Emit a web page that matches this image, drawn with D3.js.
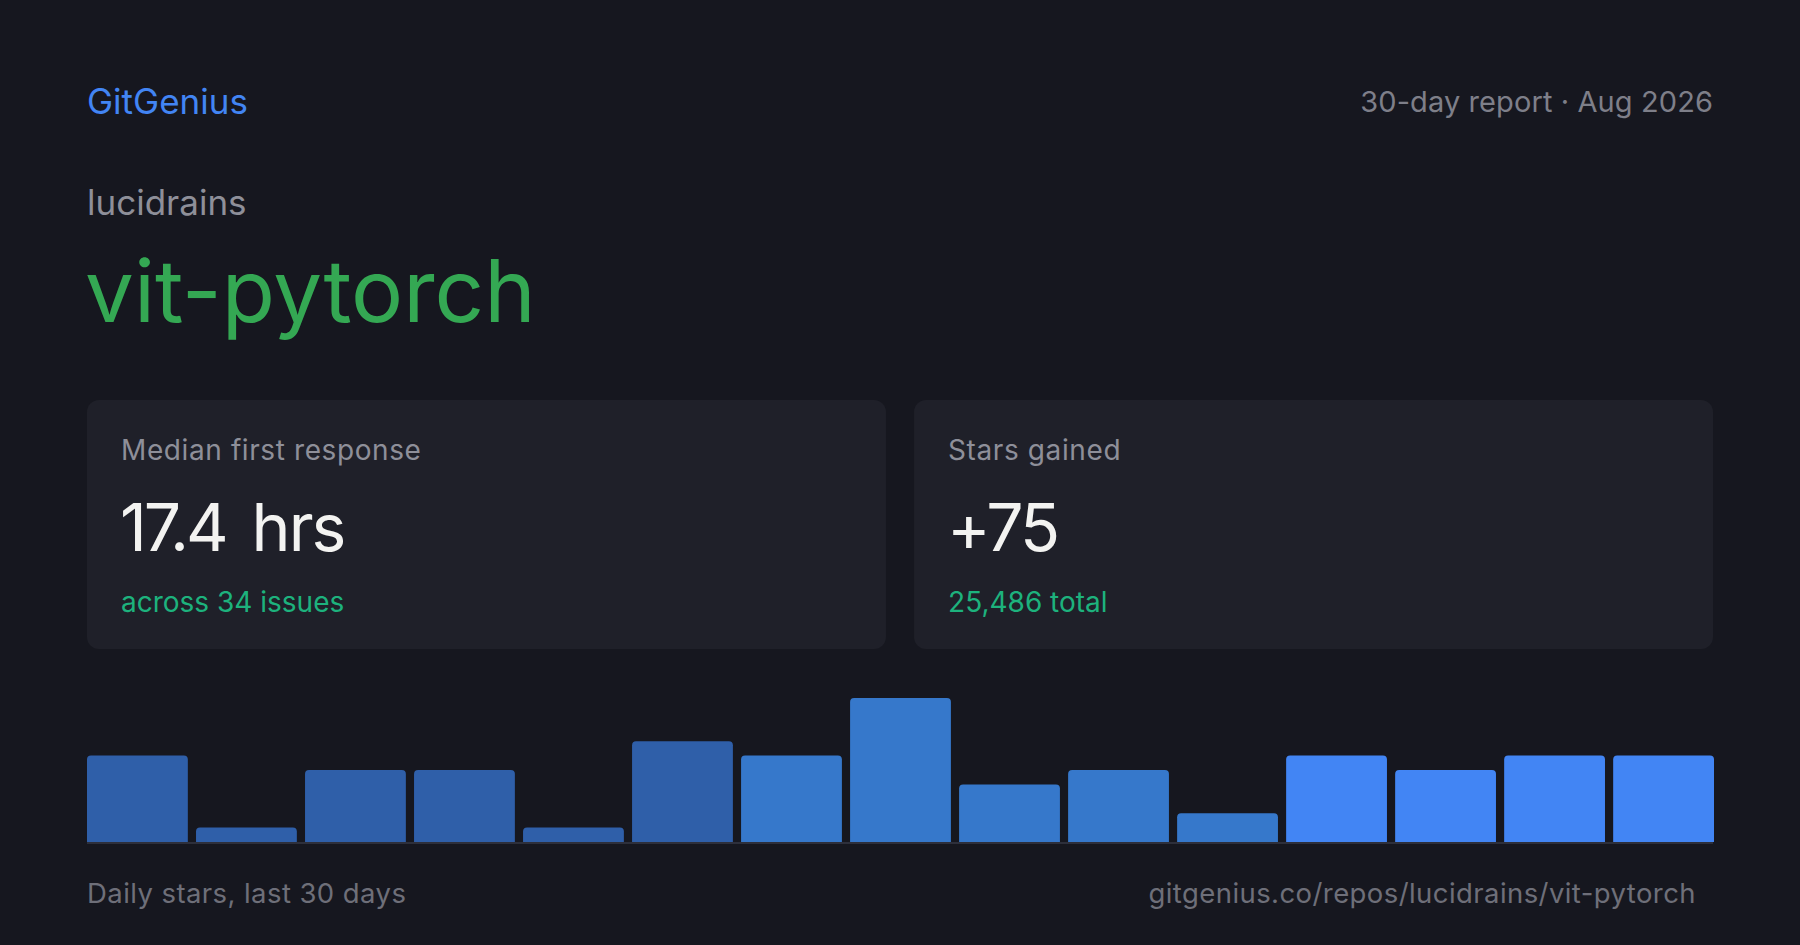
<!DOCTYPE html>
<html>
<head>
<meta charset="utf-8">
<script src="https://cdn.jsdelivr.net/npm/d3@7"></script>
<style>
  html, body { margin: 0; padding: 0; background: #16171f; }
  svg { display: block; font-family: Inter, "Noto Sans", sans-serif; }
</style>
</head>
<body>
<div id="chart"></div>
<script>
// data
const brand = "GitGenius";
const reportLabel = "30-day report · Aug 2026";
const owner = "lucidrains";
const repo = "vit-pytorch";
const cardLabels = ["Median first response", "Stars gained"];
const cardValues = ["17.4", "+75"];
const cardUnits = ["hrs", ""];
const cardNotes = ["across 34 issues", "25,486 total"];
const buckets = d3.range(1, 16);
const dailyStars = [6, 1, 5, 5, 1, 7, 6, 10, 4, 5, 2, 6, 5, 6, 6];
const period = [0, 0, 0, 0, 0, 0, 1, 1, 1, 1, 1, 2, 2, 2, 2];
const footerLeft = "Daily stars, last 30 days";
const footerRight = "gitgenius.co/repos/lucidrains/vit-pytorch";

const W = 1800, H = 945;
const left = 87, right = 1713;

const svg = d3.select("#chart").append("svg")
  .attr("width", W).attr("height", H);

svg.append("rect").attr("width", W).attr("height", H).attr("fill", "#16171f");

// header
svg.append("text").attr("x", left).attr("y", 114)
  .attr("font-size", 35).attr("fill", "#4285f4").text(brand);
svg.append("text").attr("x", right).attr("y", 112)
  .attr("text-anchor", "end").attr("font-size", 29).attr("letter-spacing", 0.1)
  .attr("fill", "#7e7f89").text(reportLabel);
svg.append("text").attr("x", left).attr("y", 215)
  .attr("font-size", 35).attr("fill", "#8e8f99").text(owner);
svg.append("text").attr("x", left - 2).attr("y", 322)
  .attr("font-size", 87).attr("fill", "#34a853").text(repo);

// stat cards
const cardX = d3.scaleBand().domain(cardLabels).range([left, right]).paddingInner(0.034);
const cards = svg.selectAll(".card")
  .data(cardLabels)
  .enter()
  .append("g")
  .attr("class", "card")
  .attr("transform", (d) => `translate(${cardX(d)},400)`);

cards.append("rect")
  .attr("width", cardX.bandwidth())
  .attr("height", 249)
  .attr("rx", 12)
  .attr("fill", "#1f2029");
cards.append("text")
  .attr("x", 34).attr("y", 60)
  .attr("font-size", 28).attr("letter-spacing", 0.6).attr("fill", "#8e8f99")
  .text((d) => d);
const val = cards.append("text")
  .attr("x", 33).attr("y", 151)
  .attr("font-size", 66).attr("fill", "#f3f3f1");
val.append("tspan").attr("letter-spacing", -3).text((d, i) => cardValues[i]);
val.append("tspan").attr("dx", 26).attr("letter-spacing", -2).text((d, i) => cardUnits[i]);
cards.append("text")
  .attr("x", 34).attr("y", 212)
  .attr("font-size", 28).attr("fill", "#1db27d")
  .text((d, i) => cardNotes[i]);

// bar chart
const base = 842;
const xScale = d3.scaleBand().domain(buckets).range([left, right + 1]).paddingInner(0.075);
const yScale = d3.scaleLinear().domain([0, d3.max(dailyStars)]).range([base, base - 144]);
const color = d3.scaleOrdinal().domain([0, 1, 2]).range(["#2f5fa9", "#3678cb", "#4285f4"]);

const r = 4;
svg.selectAll(".bar")
  .data(dailyStars)
  .enter()
  .append("path")
  .attr("class", "bar")
  .attr("fill", (d, i) => color(period[i]))
  .attr("d", (d, i) => {
    const x0 = xScale(buckets[i]), w = xScale.bandwidth();
    const y0 = yScale(d), y1 = yScale(0);
    return `M${x0},${y1}V${y0 + r}Q${x0},${y0} ${x0 + r},${y0}H${x0 + w - r}Q${x0 + w},${y0} ${x0 + w},${y0 + r}V${y1}Z`;
  });

svg.append("line")
  .attr("x1", left).attr("x2", right)
  .attr("y1", base + 1).attr("y2", base + 1)
  .attr("stroke", "#2d2f3b").attr("stroke-width", 2);

// footer
svg.append("text").attr("x", left).attr("y", 903)
  .attr("font-size", 27.5).attr("letter-spacing", 0.42).attr("fill", "#6e6f79").text(footerLeft);
svg.append("text").attr("x", 1696).attr("y", 903)
  .attr("text-anchor", "end").attr("font-size", 27.5).attr("letter-spacing", 0.42).attr("fill", "#6e6f79")
  .text(footerRight);
</script>
</body>
</html>
